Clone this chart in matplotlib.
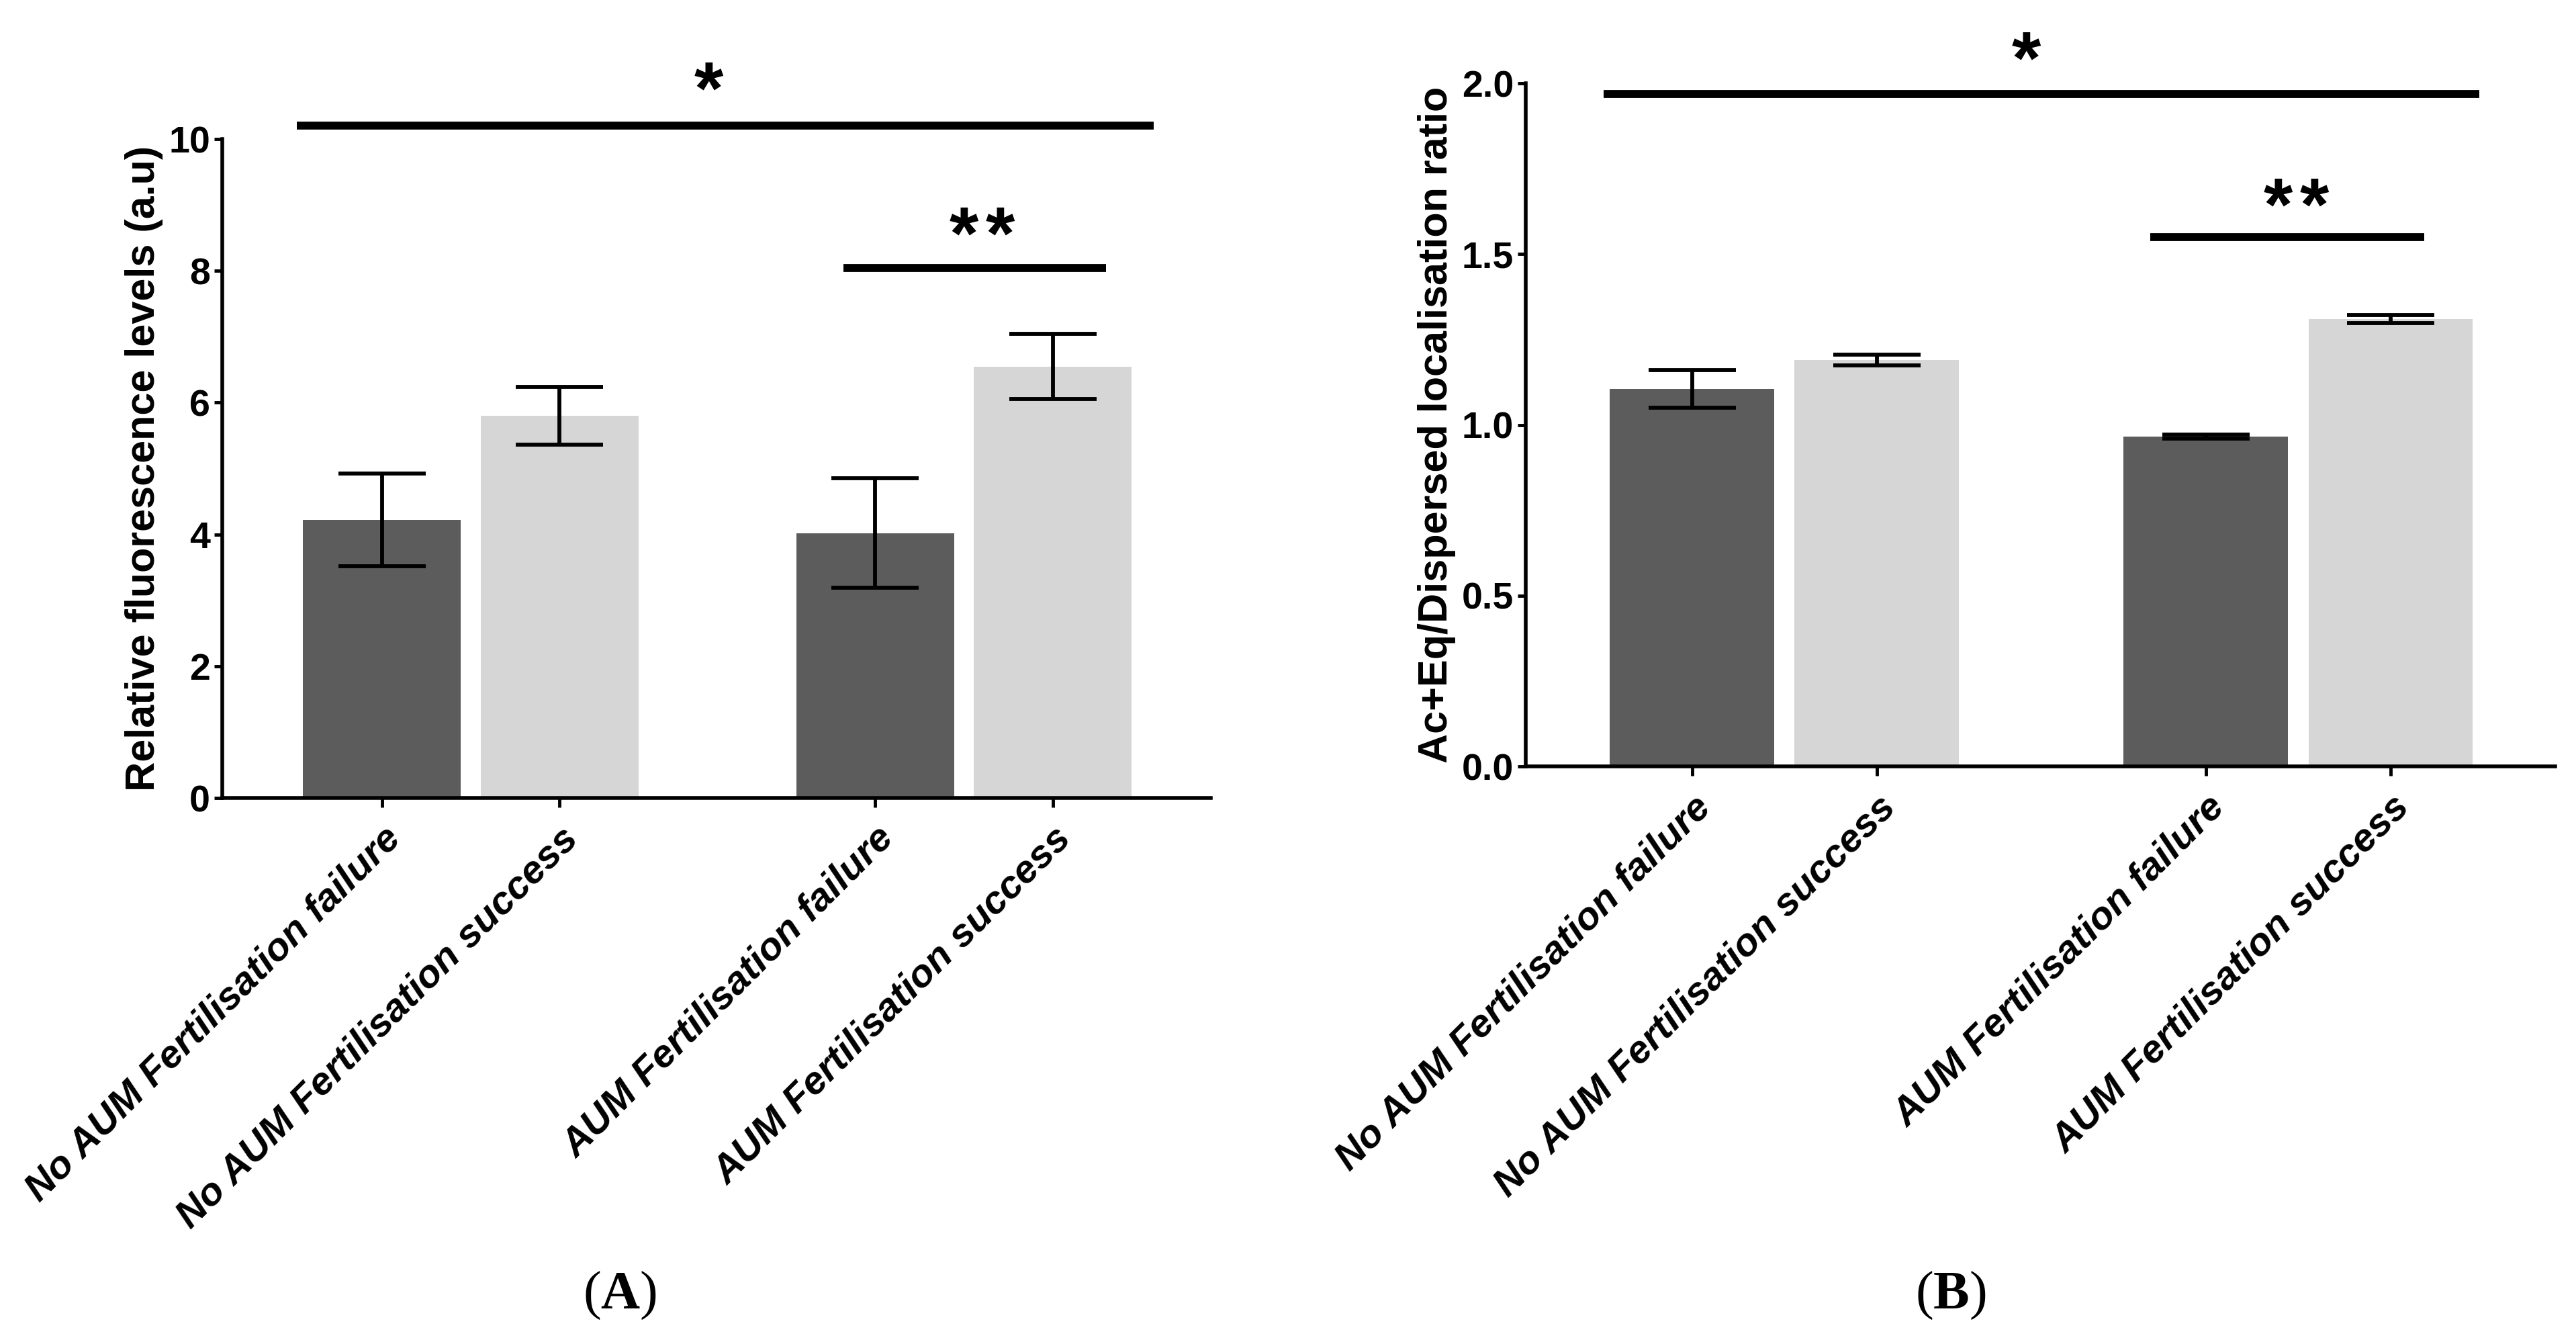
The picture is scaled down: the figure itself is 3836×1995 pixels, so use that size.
import numpy as np
import matplotlib
matplotlib.use("Agg")
import matplotlib.pyplot as plt

plt.rcParams['font.family'] = ['Liberation Sans', 'DejaVu Sans']
plt.rcParams['mathtext.fontset'] = 'custom'
plt.rcParams['mathtext.rm'] = 'Liberation Serif'
plt.rcParams['mathtext.bf'] = 'Liberation Serif:bold'

# data
groups = ["No AUM Fertilisation failure", "No AUM Fertilisation success",
          "AUM Fertilisation failure", "AUM Fertilisation success"]
fluo_mean = [4.22, 5.80, 4.02, 6.55]
fluo_err = [0.70, 0.44, 0.83, 0.49]
ratio_mean = [1.105, 1.19, 0.965, 1.31]
ratio_err = [0.055, 0.016, 0.006, 0.012]

# significance brackets: (x0, x1, y, label, label_x, label_y)
sig_a = [(-0.48, 4.35, 10.2, "*", 1.84, 10.93),
         (2.60, 4.08, 8.04, "**", 3.38, 8.73)]
sig_b = [(-0.48, 4.26, 1.969, "*", 1.81, 2.105),
         (2.48, 3.96, 1.55, "**", 3.27, 1.677)]

bar_colors = ["#5c5c5c", "#d6d6d6", "#5c5c5c", "#d6d6d6"]
pos = np.array([0, 1, 2.78, 3.78])

fig = plt.figure(figsize=(38.36, 19.95), dpi=100)
axA = fig.add_axes([0.0863, 0.4045, 0.3837, 0.4917])
axB = fig.add_axes([0.5923, 0.428, 0.3996, 0.5098])


def draw(ax, means, errs, ylim, yticks, fmt, ylabel, sigs):
    ax.bar(pos, means, width=0.89, color=bar_colors, zorder=2,
           yerr=errs, capsize=47,
           error_kw=dict(elinewidth=4.2, capthick=4.2, ecolor="black", zorder=3))
    ax.set_xlim(-0.9, 4.67)
    ax.set_ylim(*ylim)
    ax.set_yticks(yticks)
    ax.set_yticklabels([fmt % v for v in yticks], fontsize=40, fontweight="bold")
    ax.set_xticks(pos)
    ax.set_xticklabels(groups, rotation=45, ha="right", rotation_mode="anchor",
                       fontsize=42, fontweight="bold", fontstyle="italic")
    ax.set_ylabel(ylabel, fontsize=44, fontweight="bold", labelpad=6)
    for s in ["top", "right"]:
        ax.spines[s].set_visible(False)
    for s in ["left", "bottom"]:
        ax.spines[s].set_linewidth(4)
    ax.tick_params(axis="x", length=10, width=3.5, pad=14)
    ax.tick_params(axis="y", length=9, width=3.5, pad=4)
    for x0, x1, y, lab, lx, ly in sigs:
        ax.plot([x0, x1], [y, y], color="black", lw=8.5, clip_on=False,
                solid_capstyle="butt")
        n = len(lab)
        for k in range(n):
            dx = (k - (n - 1) / 2) * 39
            ax.annotate("*", (lx, ly), xytext=(dx, -18), textcoords="offset points",
                        ha="center", va="center", fontsize=80, fontweight="bold",
                        annotation_clip=False)


draw(axA, fluo_mean, fluo_err, (0, 10), [0, 2, 4, 6, 8, 10], "%d",
     "Relative fluorescence levels (a.u)", sig_a)
draw(axB, ratio_mean, ratio_err, (0, 2.0), [0.0, 0.5, 1.0, 1.5, 2.0], "%.1f",
     "Ac+Eq/Dispersed localisation ratio", sig_b)

fig.text(923 / 3836, 0.033, r"$\mathrm{(}\mathbf{A}\mathrm{)}$", ha="center",
         va="center", fontsize=58)
fig.text(2905 / 3836, 0.033, r"$\mathrm{(}\mathbf{B}\mathrm{)}$", ha="center",
         va="center", fontsize=58)

fig.savefig("out.png", dpi=100)
